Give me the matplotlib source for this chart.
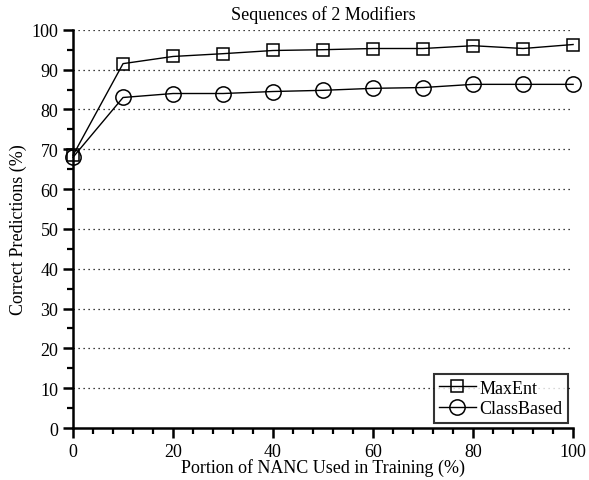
import matplotlib
matplotlib.use('Agg')
import matplotlib.pyplot as plt
from matplotlib.ticker import MultipleLocator

plt.rcParams['font.family'] = ['Liberation Serif', 'DejaVu Serif']

portion = [0, 10, 20, 30, 40, 50, 60, 70, 80, 90, 100]
maxent = [68.5, 91.5, 93.3, 94.0, 94.8, 95.0, 95.3, 95.3, 96.0, 95.3, 96.3]
classbased = [68.0, 83.0, 84.0, 84.0, 84.5, 84.8, 85.3, 85.5, 86.3, 86.3, 86.3]

fig = plt.figure(figsize=(5.89, 4.81), dpi=100)
ax = fig.add_axes([0.124, 0.108, 0.849, 0.828])

ax.plot(portion, maxent, color='k', lw=1.0, marker='s', ms=8,
        mfc='none', mec='k', mew=1.1, label='MaxEnt', clip_on=False, zorder=3)
ax.plot(portion, classbased, color='k', lw=1.0, marker='o', ms=11,
        mfc='none', mec='k', mew=1.1, label='ClassBased', clip_on=False, zorder=3)

ax.set_xlim(0, 100)
ax.set_ylim(0, 100)
ax.xaxis.set_major_locator(MultipleLocator(20))
ax.xaxis.set_minor_locator(MultipleLocator(4))
ax.yaxis.set_major_locator(MultipleLocator(10))
ax.yaxis.set_minor_locator(MultipleLocator(5))

# dotted horizontal grid
for y in range(10, 101, 10):
    ax.axhline(y, color='k', lw=0.9, ls=(0, (1, 3)), zorder=1)

for s in ['top', 'right']:
    ax.spines[s].set_visible(False)
for s in ['left', 'bottom']:
    ax.spines[s].set_linewidth(1.8)

ax.tick_params(which='major', direction='out', length=7, width=1.8, labelsize=13)
ax.tick_params(which='minor', direction='out', length=4, width=1.6)

ax.set_title('Sequences of 2 Modifiers', fontsize=13, pad=8)
ax.set_xlabel('Portion of NANC Used in Training (%)', fontsize=13, labelpad=-1)
ax.set_ylabel('Correct Predictions (%)', fontsize=13, labelpad=3)

leg = ax.legend(loc='lower right', fontsize=13, frameon=True, fancybox=False,
                borderaxespad=0.3, handlelength=2.0, borderpad=0.3,
                labelspacing=0.2, handletextpad=0.2)
leg.get_frame().set_edgecolor('k')
leg.get_frame().set_linewidth(1.5)

fig.savefig('out.png', dpi=100)
